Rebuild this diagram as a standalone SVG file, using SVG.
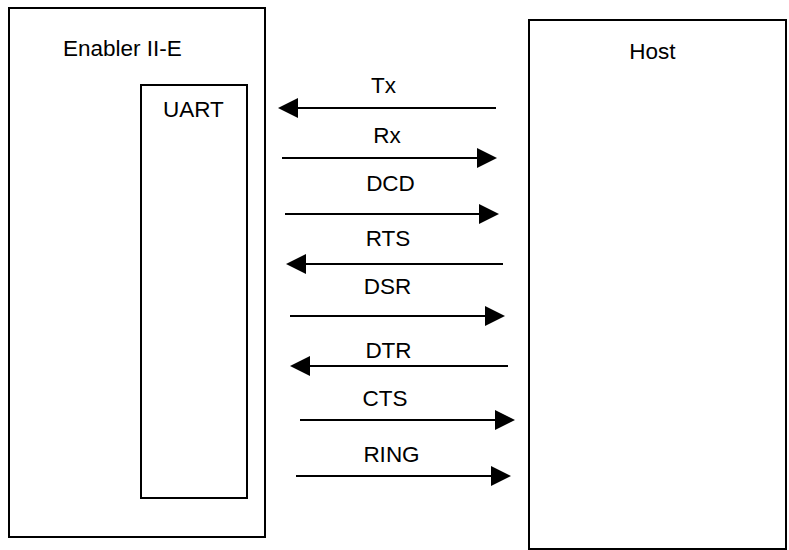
<svg xmlns="http://www.w3.org/2000/svg" width="789" height="550" viewBox="0 0 789 550">
<style>
.box{fill:none;stroke:#000;stroke-width:2}
.lbl{font-family:"Liberation Sans",Arial,sans-serif;font-size:22.5px;fill:#000}
.c{text-anchor:middle}
.ln{stroke:#000;stroke-width:2;fill:none}
.ah{fill:#000}
</style>
<rect width="789" height="550" fill="#fff"/>
<g id="enabler">
<rect class="box" x="9" y="8" width="256" height="529"/>
<text class="lbl" x="63" y="56">Enabler II-E</text>
</g>
<g id="uart">
<rect class="box" x="141" y="85" width="106" height="413"/>
<text class="lbl" x="163" y="117">UART</text>
</g>
<g id="host">
<rect class="box" x="529" y="20" width="257" height="529"/>
<text class="lbl c" x="652.5" y="59">Host</text>
</g>
<g id="connectors">
<g id="tx"><line class="ln" x1="496" y1="108" x2="295" y2="108"/><polygon class="ah" points="278,108 298,98 298,118"/><text class="lbl c" x="383.5" y="93">Tx</text></g>
<g id="rx"><line class="ln" x1="282" y1="158" x2="480" y2="158"/><polygon class="ah" points="497,158 477,148 477,168"/><text class="lbl c" x="387" y="143">Rx</text></g>
<g id="dcd"><line class="ln" x1="285" y1="214" x2="482" y2="214"/><polygon class="ah" points="499,214 479,204 479,224"/><text class="lbl c" x="390.5" y="191">DCD</text></g>
<g id="rts"><line class="ln" x1="503" y1="264" x2="303" y2="264"/><polygon class="ah" points="286,264 306,254 306,274"/><text class="lbl c" x="388" y="246">RTS</text></g>
<g id="dsr"><line class="ln" x1="290" y1="316" x2="488" y2="316"/><polygon class="ah" points="505,316 485,306 485,326"/><text class="lbl c" x="387.5" y="294">DSR</text></g>
<g id="dtr"><line class="ln" x1="508" y1="366" x2="307" y2="366"/><polygon class="ah" points="290,366 310,356 310,376"/><text class="lbl c" x="388.5" y="358">DTR</text></g>
<g id="cts"><line class="ln" x1="300" y1="420" x2="498" y2="420"/><polygon class="ah" points="515,420 495,410 495,430"/><text class="lbl c" x="385" y="406">CTS</text></g>
<g id="ring"><line class="ln" x1="296" y1="476" x2="494" y2="476"/><polygon class="ah" points="511,476 491,466 491,486"/><text class="lbl c" x="391.5" y="462">RING</text></g>
</g>
</svg>
